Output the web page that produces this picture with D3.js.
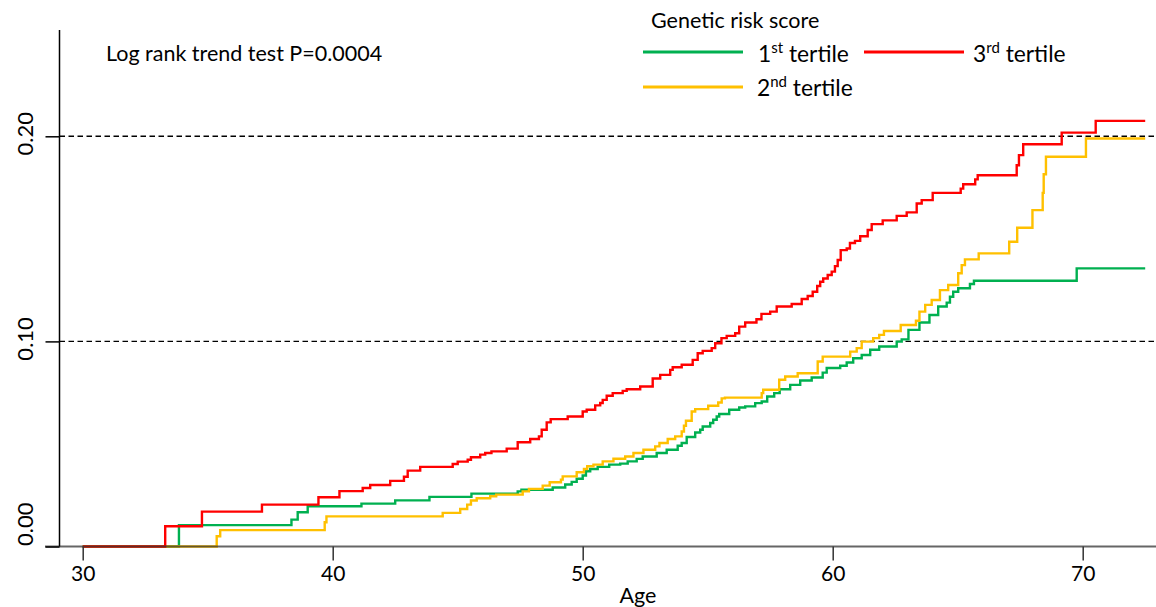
<!DOCTYPE html>
<html>
<head>
<meta charset="utf-8">
<script src="https://cdn.jsdelivr.net/npm/d3@7"></script>
<style>
  body { margin: 0; background: #fff; }
  text { font-family: Lato, "Open Sans", sans-serif; fill: #000; }
</style>
</head>
<body>
<div id="chart"></div>
<script>
///////////////////////////////////////////////////////////////////////////
/////////////////////////////// Data //////////////////////////////////////
///////////////////////////////////////////////////////////////////////////

// [age, cumulative incidence] - each value holds from that age onward
var tertile1 = [
  [30, 0], [33.85, 0.0104], [38.35, 0.0131], [38.6, 0.0167], [39.0, 0.0196],
  [41.15, 0.0209], [42.5, 0.0225], [43.87, 0.0242], [45.55, 0.0258], [47.4, 0.0269],
  [47.55, 0.0277], [48.8, 0.0288], [49.3, 0.0302], [49.56, 0.0315], [49.76, 0.033],
  [50.0, 0.0346], [50.13, 0.0367], [50.3, 0.0378], [50.6, 0.0388], [51.06, 0.0399],
  [51.5, 0.0404], [51.8, 0.0415], [52.16, 0.0427], [52.4, 0.0439], [52.96, 0.0456],
  [53.36, 0.0472], [53.8, 0.0491], [53.96, 0.0505], [54.16, 0.0534], [54.5, 0.0556],
  [54.7, 0.0569], [54.8, 0.0585], [55.1, 0.0602], [55.22, 0.0618], [55.36, 0.0634],
  [55.46, 0.0646], [55.86, 0.0667], [56.26, 0.0678], [56.5, 0.0683], [56.9, 0.0699],
  [57.16, 0.0707], [57.38, 0.0731], [57.66, 0.0748], [57.88, 0.0767], [58.3, 0.0788],
  [58.7, 0.0809], [59.16, 0.0824], [59.6, 0.0848], [59.76, 0.087], [60.3, 0.0881],
  [60.56, 0.0897], [60.82, 0.0918], [61.16, 0.0934], [61.5, 0.0959], [61.86, 0.0975],
  [62.56, 0.0999], [62.76, 0.101], [63.03, 0.1056], [63.47, 0.1092], [63.87, 0.1129],
  [64.22, 0.117], [64.56, 0.1189], [64.69, 0.1218], [64.82, 0.1242], [65.02, 0.1259],
  [65.49, 0.128], [65.65, 0.1296], [69.76, 0.1356], [72.5, 0.1356]
];

var tertile2 = [
  [30, 0], [35.36, 0.005], [35.5, 0.008], [39.68, 0.0118], [39.75, 0.0147],
  [44.4, 0.0164], [45.1, 0.0183], [45.38, 0.0204], [45.53, 0.0224], [45.76, 0.0235],
  [46.3, 0.0245], [46.54, 0.0253], [47.6, 0.0269], [47.85, 0.0281], [48.4, 0.0297],
  [48.68, 0.0313], [49.13, 0.0326], [49.2, 0.0342], [49.76, 0.0362], [50.05, 0.0378],
  [50.18, 0.0391], [50.43, 0.0399], [50.8, 0.0415], [51.23, 0.0428], [51.7, 0.0439],
  [52.03, 0.0456], [52.43, 0.0472], [52.9, 0.0488], [53.07, 0.0505], [53.4, 0.0524],
  [53.7, 0.0537], [53.96, 0.0561], [54.05, 0.0589], [54.13, 0.0613], [54.36, 0.0658],
  [54.5, 0.067], [55.02, 0.0686], [55.42, 0.0702], [55.56, 0.0722], [55.69, 0.0726],
  [57.16, 0.0748], [57.22, 0.0764], [57.86, 0.0813], [58.1, 0.0829], [58.6, 0.0845],
  [59.4, 0.0902], [59.6, 0.0926], [60.7, 0.095], [60.96, 0.0967], [61.16, 0.0999],
  [61.62, 0.1016], [61.86, 0.1032], [62.05, 0.1051], [62.72, 0.108], [63.33, 0.1101],
  [63.47, 0.1145], [63.7, 0.1178], [63.96, 0.1202], [64.29, 0.125], [64.62, 0.1275],
  [65.02, 0.1332], [65.16, 0.1372], [65.29, 0.14], [65.84, 0.1429], [67.06, 0.1486],
  [67.38, 0.1554], [67.99, 0.164], [68.4, 0.1724], [68.44, 0.1815], [68.53, 0.19],
  [70.13, 0.1989], [72.5, 0.1989]
];

var tertile3 = [
  [30, 0], [33.3, 0.0099], [34.77, 0.017], [37.17, 0.0204], [39.43, 0.024],
  [40.27, 0.027], [41.2, 0.0285], [41.5, 0.030], [42.3, 0.032], [42.85, 0.034],
  [43.0, 0.037], [43.5, 0.0388], [44.8, 0.0402], [45.0, 0.0414], [45.4, 0.0423],
  [45.53, 0.0435], [45.9, 0.0448], [46.1, 0.0456], [46.35, 0.0464], [46.96, 0.0477],
  [47.4, 0.0508], [47.9, 0.0524], [48.25, 0.0537], [48.36, 0.0569], [48.56, 0.0605],
  [48.72, 0.0621], [49.4, 0.0634], [50.0, 0.0658], [50.16, 0.0667], [50.5, 0.0688],
  [50.7, 0.070], [50.8, 0.0715], [50.96, 0.0735], [51.2, 0.0748], [51.6, 0.0759],
  [51.76, 0.0767], [52.3, 0.078], [52.8, 0.0819], [53.1, 0.0837], [53.5, 0.0861],
  [53.6, 0.0874], [53.96, 0.0886], [54.4, 0.091], [54.6, 0.0942], [54.8, 0.0954],
  [55.16, 0.0967], [55.3, 0.0991], [55.55, 0.1016], [55.76, 0.1027], [56.1, 0.104],
  [56.26, 0.1072], [56.5, 0.1092], [56.95, 0.1108], [57.15, 0.1134], [57.5, 0.1145],
  [57.76, 0.117], [58.36, 0.1182], [58.76, 0.1207], [59.0, 0.1221], [59.2, 0.1242],
  [59.38, 0.127], [59.5, 0.1291], [59.62, 0.1307], [59.8, 0.1324], [59.96, 0.134],
  [60.09, 0.1367], [60.2, 0.1397], [60.32, 0.1445], [60.56, 0.1453], [60.69, 0.148],
  [60.89, 0.149], [61.1, 0.1513], [61.4, 0.1543], [61.56, 0.1572], [62.0, 0.159],
  [62.56, 0.1612], [62.96, 0.1629], [63.36, 0.1672], [63.56, 0.1689], [64.0, 0.1724],
  [65.12, 0.1745], [65.22, 0.1766], [65.7, 0.179], [65.8, 0.181], [67.36, 0.1859],
  [67.45, 0.1908], [67.62, 0.1961], [69.16, 0.2018], [70.52, 0.2075], [72.5, 0.2075]
];

var xTicks = [30, 40, 50, 60, 70];
var yTicks = [0, 0.1, 0.2];
var refLines = [0.1, 0.2];

var legendTitle = "Genetic risk score";
var seriesNames = [["1", "st", " tertile"], ["2", "nd", " tertile"], ["3", "rd", " tertile"]];
var seriesColors = ["#00B050", "#FFC000", "#FF0000"];
var pText = "Log rank trend test P=0.0004";
var xTitle = "Age";

///////////////////////////////////////////////////////////////////////////
//////////////////// Set up and initiate svg container ////////////////////
///////////////////////////////////////////////////////////////////////////

var width = 1156,
    height = 607;

var svg = d3.select("#chart")
    .append("svg")
    .attr("width", width)
    .attr("height", height);

var x = d3.scaleLinear()
    .domain([30, 70])
    .range([82.7, 1082.7]);

var y = d3.scaleLinear()
    .domain([0, 0.2])
    .range([546.5, 136.3]);

var axisLeftX = 59.5;
var labelSize = "21.5px";

//Dashed reference lines
svg.selectAll(".ref")
    .data(refLines)
    .enter().append("line")
    .attr("class", "ref")
    .attr("x1", axisLeftX).attr("x2", width)
    .attr("y1", function(d) { return y(d); })
    .attr("y2", function(d) { return y(d); })
    .style("stroke", "#000")
    .style("stroke-width", 1.4)
    .style("stroke-dasharray", "5.5,3.5");

///////////////////////////////////////////////////////////////////////////
///////////////////////////// Draw curves /////////////////////////////////
///////////////////////////////////////////////////////////////////////////

var line = d3.line()
    .x(function(d) { return x(d[0]); })
    .y(function(d) { return y(d[1]); })
    .curve(d3.curveStepAfter);

var series = [tertile1, tertile2, tertile3];

svg.selectAll(".km")
    .data(series)
    .enter().append("path")
    .attr("class", "km")
    .attr("d", line)
    .style("fill", "none")
    .style("stroke", function(d, i) { return seriesColors[i]; })
    .style("stroke-width", 2.4);

///////////////////////////////////////////////////////////////////////////
///////////////////////////// Axes ////////////////////////////////////////
///////////////////////////////////////////////////////////////////////////

//X axis
var xAxis = d3.axisBottom(x)
    .tickValues(xTicks)
    .tickSize(14)
    .tickSizeOuter(0)
    .tickPadding(6);

var gx = svg.append("g")
    .attr("class", "axis")
    .attr("transform", "translate(0," + y(0) + ")")
    .call(xAxis);
gx.select(".domain").remove();
gx.selectAll(".tick line").style("stroke", "#333").style("stroke-width", 1.5);
gx.selectAll(".tick text")
    .style("font-family", "Lato, sans-serif")
    .style("font-size", "21px")
    .style("fill", "#000");

svg.append("line")
    .attr("x1", 45).attr("x2", width)
    .attr("y1", y(0)).attr("y2", y(0))
    .style("stroke", "#333")
    .style("stroke-opacity", 0.75)
    .style("stroke-width", 2);

//Y axis
svg.append("line")
    .attr("x1", axisLeftX).attr("x2", axisLeftX)
    .attr("y1", 30).attr("y2", y(0))
    .style("stroke", "#000")
    .style("stroke-width", 1.5);

var yAxis = d3.axisLeft(y)
    .tickValues(yTicks)
    .tickSize(14)
    .tickSizeOuter(0)
    .tickFormat(d3.format(".2f"));

var gy = svg.append("g")
    .attr("class", "axis")
    .attr("transform", "translate(" + axisLeftX + ",0)")
    .call(yAxis);
gy.select(".domain").remove();
gy.selectAll(".tick line").style("stroke", "#000").style("stroke-width", 1.5);
//bottom label sits above its tick so it stays inside the plot region
gy.selectAll(".tick text")
    .attr("x", 0).attr("dy", null)
    .attr("transform", function(d) { return d === 0 ? "translate(-27,-1) rotate(-90)" : "translate(-27,-3) rotate(-90)"; })
    .style("text-anchor", function(d) { return d === 0 ? "start" : "middle"; })
    .style("font-family", "Lato, sans-serif")
    .style("font-size", "22px")
    .style("fill", "#000");

svg.append("text")
    .attr("x", 638)
    .attr("y", 603)
    .style("text-anchor", "middle")
    .style("font-size", labelSize)
    .text(xTitle);

///////////////////////////////////////////////////////////////////////////
//////////////////////////// Annotation + legend //////////////////////////
///////////////////////////////////////////////////////////////////////////

svg.append("text")
    .attr("x", 106)
    .attr("y", 61)
    .style("font-size", labelSize)
    .text(pText);

svg.append("text")
    .attr("x", 651)
    .attr("y", 28)
    .style("font-size", labelSize)
    .text(legendTitle);

var legendPos = [
    {lx: 643, ly: 52, tx: 758, ty: 62},
    {lx: 643, ly: 87, tx: 757, ty: 96},
    {lx: 864, ly: 52, tx: 973, ty: 62}
];

var legend = svg.selectAll(".legendItem")
    .data(seriesNames)
    .enter().append("g")
    .attr("class", "legendItem");

legend.append("line")
    .attr("x1", function(d, i) { return legendPos[i].lx; })
    .attr("x2", function(d, i) { return legendPos[i].lx + 100; })
    .attr("y1", function(d, i) { return legendPos[i].ly; })
    .attr("y2", function(d, i) { return legendPos[i].ly; })
    .style("stroke", function(d, i) { return seriesColors[i]; })
    .style("stroke-width", 3);

var lt = legend.append("text")
    .attr("x", function(d, i) { return legendPos[i].tx; })
    .attr("y", function(d, i) { return legendPos[i].ty; })
    .style("font-size", "22.8px");
lt.append("tspan").text(function(d) { return d[0]; });
lt.append("tspan")
    .attr("dy", -9)
    .style("font-size", "15px")
    .text(function(d) { return d[1]; });
lt.append("tspan")
    .attr("dy", 9)
    .text(function(d) { return d[2]; });
</script>
</body>
</html>
